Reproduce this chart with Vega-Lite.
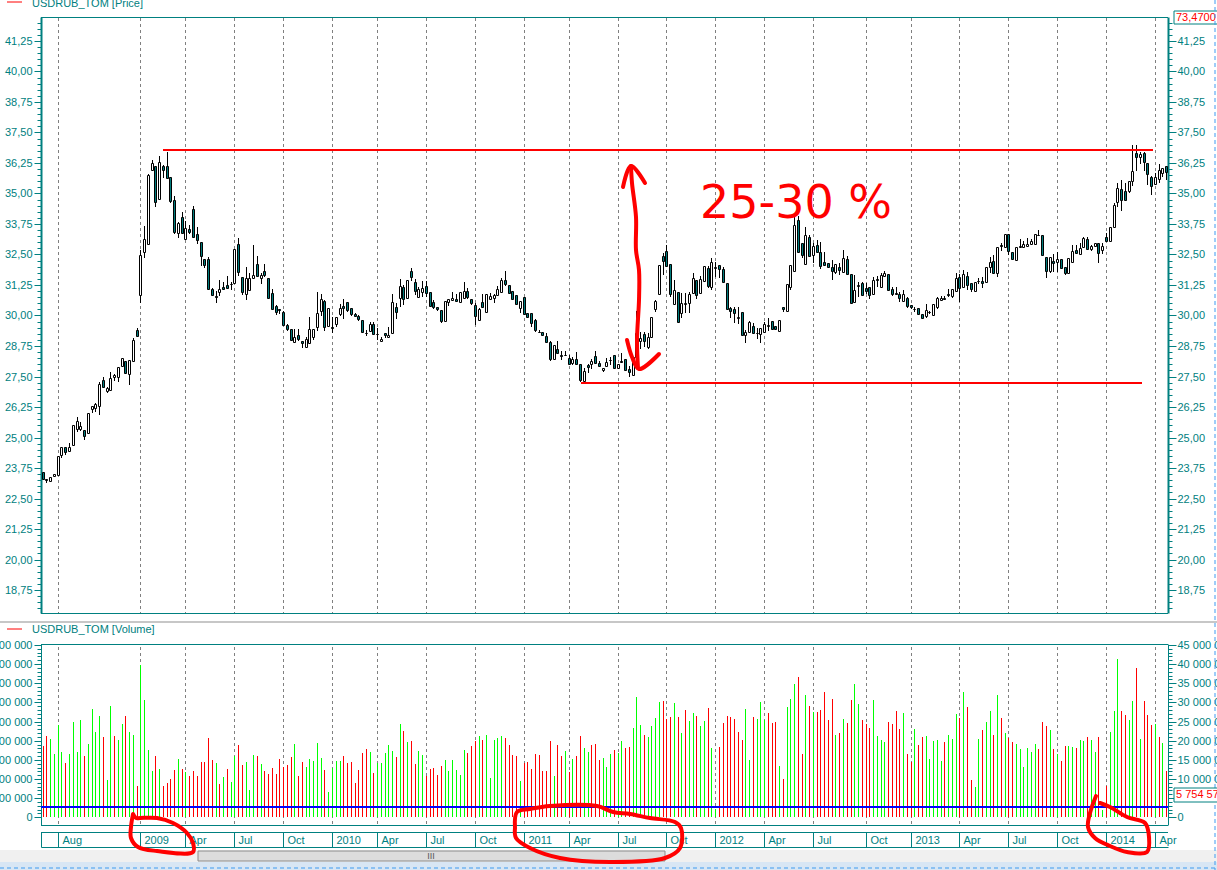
{"$schema":"https://vega.github.io/schema/vega-lite/v6.json","width":1127,"height":870,"padding":{"left":41,"top":0,"right":49,"bottom":0},"autosize":{"type":"none"},"background":"white",
"config":{"view":{"stroke":null},"axis":{"grid":false}},
"datasets":{
"w":[
{"n":0,"o":23.57,"h":23.57,"l":23.32,"c":23.32,"v":18600000,"d":"dn"},
{"n":1,"o":23.28,"h":23.29,"l":23.12,"c":23.27,"v":21200000,"d":"dn"},
{"n":2,"o":23.23,"h":23.39,"l":23.23,"c":23.39,"v":20400000,"d":"up"},
{"n":3,"o":23.41,"h":23.52,"l":23.41,"c":23.52,"v":16500000,"d":"up"},
{"n":4,"o":23.46,"h":24.23,"l":23.46,"c":24.23,"v":24100000,"d":"up"},
{"n":5,"o":24.3,"h":24.6,"l":24.17,"c":24.6,"v":17100000,"d":"up"},
{"n":6,"o":24.6,"h":24.6,"l":24.28,"c":24.39,"v":14200000,"d":"dn"},
{"n":7,"o":24.46,"h":24.76,"l":24.46,"c":24.6,"v":16500000,"d":"up"},
{"n":8,"o":24.7,"h":25.5,"l":24.7,"c":25.5,"v":24900000,"d":"up"},
{"n":9,"o":25.35,"h":25.83,"l":25.22,"c":25.66,"v":17100000,"d":"up"},
{"n":10,"o":25.35,"h":25.62,"l":25.25,"c":25.47,"v":25400000,"d":"up"},
{"n":11,"o":25.3,"h":25.3,"l":24.9,"c":25.07,"v":16000000,"d":"dn"},
{"n":12,"o":25.2,"h":25.99,"l":25.2,"c":25.99,"v":19100000,"d":"up"},
{"n":13,"o":26.18,"h":26.28,"l":26.0,"c":26.28,"v":28300000,"d":"up"},
{"n":14,"o":26.22,"h":26.43,"l":26.05,"c":26.37,"v":22300000,"d":"up"},
{"n":15,"o":26.3,"h":27.29,"l":25.94,"c":27.2,"v":26400000,"d":"up"},
{"n":16,"o":27.36,"h":27.48,"l":27.08,"c":27.08,"v":21000000,"d":"dn"},
{"n":17,"o":26.9,"h":27.06,"l":26.82,"c":27.02,"v":9700000,"d":"up"},
{"n":18,"o":26.95,"h":27.68,"l":26.95,"c":27.42,"v":29100000,"d":"up"},
{"n":19,"o":27.49,"h":27.59,"l":27.31,"c":27.56,"v":21200000,"d":"dn"},
{"n":20,"o":27.49,"h":27.88,"l":27.29,"c":27.88,"v":20200000,"d":"up"},
{"n":21,"o":27.93,"h":28.25,"l":27.93,"c":28.25,"v":24400000,"d":"up"},
{"n":22,"o":28.12,"h":28.12,"l":27.66,"c":27.66,"v":26400000,"d":"dn"},
{"n":23,"o":27.62,"h":28.16,"l":27.15,"c":28.16,"v":22300000,"d":"up"},
{"n":24,"o":28.12,"h":29.06,"l":28.12,"c":28.98,"v":21500000,"d":"up"},
{"n":25,"o":29.41,"h":29.47,"l":29.12,"c":29.16,"v":8200000,"d":"dn"},
{"n":26,"o":30.85,"h":32.68,"l":30.53,"c":32.47,"v":39800000,"d":"up"},
{"n":27,"o":32.62,"h":33.67,"l":32.37,"c":33.12,"v":30600000,"d":"up"},
{"n":28,"o":32.93,"h":35.8,"l":32.93,"c":35.76,"v":17600000,"d":"up"},
{"n":29,"o":35.96,"h":36.37,"l":35.9,"c":36.24,"v":12100000,"d":"up"},
{"n":30,"o":36.13,"h":36.13,"l":34.46,"c":34.66,"v":16000000,"d":"dn"},
{"n":31,"o":34.77,"h":36.54,"l":34.73,"c":36.28,"v":12600000,"d":"up"},
{"n":32,"o":36.13,"h":36.18,"l":35.65,"c":35.98,"v":8200000,"d":"dn"},
{"n":33,"o":36.13,"h":36.7,"l":35.65,"c":35.65,"v":9000000,"d":"dn"},
{"n":34,"o":35.66,"h":35.66,"l":34.62,"c":34.7,"v":10000000,"d":"dn"},
{"n":35,"o":34.73,"h":34.9,"l":33.34,"c":33.43,"v":12400000,"d":"dn"},
{"n":36,"o":33.37,"h":33.84,"l":33.19,"c":33.8,"v":15200000,"d":"up"},
{"n":37,"o":34.02,"h":34.24,"l":33.39,"c":33.39,"v":12600000,"d":"dn"},
{"n":38,"o":33.15,"h":33.89,"l":33.15,"c":33.57,"v":11800000,"d":"up"},
{"n":39,"o":33.55,"h":33.7,"l":33.34,"c":33.44,"v":10800000,"d":"dn"},
{"n":40,"o":34.36,"h":34.49,"l":33.2,"c":33.2,"v":12100000,"d":"dn"},
{"n":41,"o":33.33,"h":33.63,"l":32.93,"c":33.11,"v":10800000,"d":"dn"},
{"n":42,"o":33.0,"h":33.03,"l":32.04,"c":32.45,"v":14400000,"d":"dn"},
{"n":43,"o":32.3,"h":32.3,"l":31.93,"c":32.08,"v":14400000,"d":"dn"},
{"n":44,"o":32.31,"h":32.38,"l":31.05,"c":31.1,"v":20700000,"d":"dn"},
{"n":45,"o":31.07,"h":31.12,"l":30.8,"c":30.85,"v":15000000,"d":"dn"},
{"n":46,"o":30.78,"h":30.99,"l":30.53,"c":30.77,"v":14200000,"d":"up"},
{"n":47,"o":30.96,"h":31.45,"l":30.8,"c":31.07,"v":8700000,"d":"dn"},
{"n":48,"o":31.15,"h":31.37,"l":31.1,"c":31.1,"v":10500000,"d":"up"},
{"n":49,"o":31.24,"h":31.62,"l":31.13,"c":31.13,"v":12600000,"d":"dn"},
{"n":50,"o":31.3,"h":31.37,"l":31.04,"c":31.3,"v":9200000,"d":"up"},
{"n":51,"o":31.35,"h":32.71,"l":31.35,"c":32.71,"v":16000000,"d":"up"},
{"n":52,"o":32.92,"h":33.18,"l":31.62,"c":31.8,"v":18900000,"d":"dn"},
{"n":53,"o":31.56,"h":31.56,"l":30.85,"c":30.95,"v":13700000,"d":"dn"},
{"n":54,"o":30.88,"h":31.97,"l":30.64,"c":31.52,"v":14400000,"d":"up"},
{"n":55,"o":31.06,"h":31.73,"l":31.06,"c":31.52,"v":7100000,"d":"up"},
{"n":56,"o":31.52,"h":32.89,"l":31.5,"c":31.65,"v":16300000,"d":"up"},
{"n":57,"o":32.1,"h":32.44,"l":31.63,"c":31.63,"v":16000000,"d":"dn"},
{"n":58,"o":31.55,"h":31.73,"l":31.3,"c":31.66,"v":13900000,"d":"up"},
{"n":59,"o":31.81,"h":32.11,"l":31.59,"c":31.67,"v":12100000,"d":"dn"},
{"n":60,"o":31.52,"h":31.52,"l":30.7,"c":30.7,"v":11300000,"d":"dn"},
{"n":61,"o":30.91,"h":31.07,"l":30.28,"c":30.28,"v":12900000,"d":"dn"},
{"n":62,"o":30.39,"h":30.43,"l":30.0,"c":30.16,"v":11300000,"d":"dn"},
{"n":63,"o":30.28,"h":30.28,"l":30.05,"c":30.23,"v":15200000,"d":"dn"},
{"n":64,"o":30.13,"h":30.19,"l":29.57,"c":29.61,"v":13100000,"d":"dn"},
{"n":65,"o":29.61,"h":29.65,"l":29.35,"c":29.43,"v":13700000,"d":"dn"},
{"n":66,"o":29.43,"h":29.43,"l":28.98,"c":28.98,"v":15700000,"d":"dn"},
{"n":67,"o":28.93,"h":29.43,"l":28.93,"c":29.1,"v":19100000,"d":"up"},
{"n":68,"o":29.19,"h":29.45,"l":28.97,"c":29.05,"v":10800000,"d":"dn"},
{"n":69,"o":28.97,"h":28.97,"l":28.68,"c":28.89,"v":14400000,"d":"dn"},
{"n":70,"o":28.72,"h":29.13,"l":28.67,"c":29.02,"v":13100000,"d":"up"},
{"n":71,"o":28.88,"h":29.92,"l":28.88,"c":29.43,"v":15200000,"d":"up"},
{"n":72,"o":29.13,"h":29.43,"l":29.0,"c":29.43,"v":14700000,"d":"up"},
{"n":73,"o":29.54,"h":30.96,"l":29.38,"c":30.09,"v":19400000,"d":"up"},
{"n":74,"o":30.2,"h":30.88,"l":29.98,"c":30.66,"v":15500000,"d":"up"},
{"n":75,"o":30.58,"h":30.64,"l":29.38,"c":29.54,"v":12400000,"d":"dn"},
{"n":76,"o":29.57,"h":30.3,"l":29.57,"c":30.3,"v":6600000,"d":"up"},
{"n":77,"o":29.54,"h":29.95,"l":29.3,"c":29.5,"v":12900000,"d":"up"},
{"n":78,"o":29.65,"h":29.92,"l":29.54,"c":29.92,"v":14700000,"d":"up"},
{"n":79,"o":30.06,"h":30.47,"l":29.98,"c":30.29,"v":14700000,"d":"up"},
{"n":80,"o":30.38,"h":30.66,"l":29.87,"c":30.32,"v":16000000,"d":"dn"},
{"n":81,"o":30.54,"h":30.54,"l":30.15,"c":30.22,"v":14200000,"d":"dn"},
{"n":82,"o":30.29,"h":30.29,"l":29.98,"c":30.06,"v":14400000,"d":"dn"},
{"n":83,"o":30.05,"h":30.12,"l":29.92,"c":29.99,"v":9000000,"d":"dn"},
{"n":84,"o":29.96,"h":30.03,"l":29.76,"c":29.84,"v":12400000,"d":"dn"},
{"n":85,"o":29.8,"h":29.8,"l":29.31,"c":29.31,"v":16800000,"d":"dn"},
{"n":86,"o":29.3,"h":29.4,"l":29.16,"c":29.3,"v":17800000,"d":"dn"},
{"n":87,"o":29.38,"h":29.72,"l":29.32,"c":29.64,"v":17100000,"d":"up"},
{"n":88,"o":29.64,"h":29.73,"l":29.23,"c":29.23,"v":11600000,"d":"dn"},
{"n":89,"o":29.26,"h":29.49,"l":29.0,"c":29.24,"v":14200000,"d":"up"},
{"n":90,"o":28.94,"h":29.13,"l":28.91,"c":29.05,"v":14200000,"d":"up"},
{"n":91,"o":29.27,"h":29.28,"l":29.06,"c":29.21,"v":16800000,"d":"up"},
{"n":92,"o":29.1,"h":29.51,"l":29.1,"c":29.19,"v":18900000,"d":"up"},
{"n":93,"o":29.3,"h":30.88,"l":29.3,"c":30.54,"v":17300000,"d":"up"},
{"n":94,"o":30.33,"h":30.5,"l":29.86,"c":30.16,"v":15700000,"d":"dn"},
{"n":95,"o":30.73,"h":31.5,"l":30.33,"c":31.2,"v":24400000,"d":"up"},
{"n":96,"o":31.15,"h":31.25,"l":30.42,"c":30.69,"v":22500000,"d":"dn"},
{"n":97,"o":30.73,"h":31.44,"l":30.73,"c":31.44,"v":19700000,"d":"up"},
{"n":98,"o":31.81,"h":31.95,"l":31.41,"c":31.59,"v":19900000,"d":"dn"},
{"n":99,"o":31.36,"h":31.48,"l":30.83,"c":31.02,"v":13900000,"d":"dn"},
{"n":100,"o":30.74,"h":31.18,"l":30.74,"c":31.1,"v":17300000,"d":"up"},
{"n":101,"o":30.98,"h":31.41,"l":30.77,"c":31.11,"v":16300000,"d":"up"},
{"n":102,"o":31.2,"h":31.41,"l":30.77,"c":30.91,"v":10800000,"d":"dn"},
{"n":103,"o":30.95,"h":30.95,"l":30.4,"c":30.4,"v":12600000,"d":"dn"},
{"n":104,"o":30.55,"h":30.63,"l":30.25,"c":30.36,"v":12900000,"d":"dn"},
{"n":105,"o":30.33,"h":30.33,"l":30.2,"c":30.25,"v":11000000,"d":"dn"},
{"n":106,"o":30.21,"h":30.21,"l":29.71,"c":29.79,"v":13400000,"d":"dn"},
{"n":107,"o":29.79,"h":30.59,"l":29.79,"c":30.59,"v":15000000,"d":"up"},
{"n":108,"o":30.55,"h":30.69,"l":30.39,"c":30.66,"v":12100000,"d":"up"},
{"n":109,"o":30.64,"h":30.96,"l":30.59,"c":30.7,"v":15000000,"d":"up"},
{"n":110,"o":30.66,"h":30.88,"l":30.61,"c":30.61,"v":12400000,"d":"up"},
{"n":111,"o":30.57,"h":30.95,"l":30.57,"c":30.95,"v":11000000,"d":"up"},
{"n":112,"o":30.7,"h":31.37,"l":30.7,"c":30.99,"v":17600000,"d":"up"},
{"n":113,"o":31.0,"h":31.11,"l":30.66,"c":30.77,"v":16800000,"d":"dn"},
{"n":114,"o":30.66,"h":30.66,"l":30.42,"c":30.5,"v":18600000,"d":"dn"},
{"n":115,"o":30.44,"h":30.5,"l":29.62,"c":29.99,"v":19900000,"d":"dn"},
{"n":116,"o":29.82,"h":30.31,"l":29.79,"c":30.25,"v":21200000,"d":"up"},
{"n":117,"o":30.54,"h":30.88,"l":30.36,"c":30.36,"v":20200000,"d":"dn"},
{"n":118,"o":30.13,"h":30.88,"l":30.13,"c":30.88,"v":21500000,"d":"up"},
{"n":119,"o":30.69,"h":30.91,"l":30.69,"c":30.8,"v":10300000,"d":"up"},
{"n":120,"o":30.73,"h":30.88,"l":30.53,"c":30.84,"v":20200000,"d":"up"},
{"n":121,"o":30.85,"h":31.2,"l":30.85,"c":31.1,"v":20700000,"d":"up"},
{"n":122,"o":30.98,"h":31.52,"l":30.98,"c":31.45,"v":21200000,"d":"up"},
{"n":123,"o":31.44,"h":31.82,"l":31.21,"c":31.29,"v":20700000,"d":"dn"},
{"n":124,"o":31.24,"h":31.24,"l":30.88,"c":30.94,"v":18900000,"d":"dn"},
{"n":125,"o":30.99,"h":30.99,"l":30.63,"c":30.69,"v":16300000,"d":"dn"},
{"n":126,"o":30.83,"h":30.83,"l":30.42,"c":30.47,"v":16000000,"d":"dn"},
{"n":127,"o":30.32,"h":30.58,"l":30.09,"c":30.58,"v":9500000,"d":"up"},
{"n":128,"o":30.74,"h":30.74,"l":30.05,"c":30.05,"v":14200000,"d":"dn"},
{"n":129,"o":30.09,"h":30.09,"l":29.95,"c":29.95,"v":14400000,"d":"dn"},
{"n":130,"o":30.09,"h":30.09,"l":29.54,"c":29.71,"v":12600000,"d":"dn"},
{"n":131,"o":29.8,"h":29.84,"l":29.32,"c":29.4,"v":16500000,"d":"dn"},
{"n":132,"o":29.34,"h":29.4,"l":29.27,"c":29.33,"v":16300000,"d":"dn"},
{"n":133,"o":29.31,"h":29.31,"l":29.19,"c":29.19,"v":12100000,"d":"dn"},
{"n":134,"o":29.15,"h":29.27,"l":28.93,"c":28.93,"v":12100000,"d":"dn"},
{"n":135,"o":28.9,"h":28.97,"l":28.15,"c":28.23,"v":19900000,"d":"dn"},
{"n":136,"o":28.23,"h":28.78,"l":28.23,"c":28.78,"v":10800000,"d":"up"},
{"n":137,"o":28.61,"h":28.94,"l":28.48,"c":28.48,"v":18900000,"d":"dn"},
{"n":138,"o":28.37,"h":28.53,"l":28.18,"c":28.33,"v":16000000,"d":"dn"},
{"n":139,"o":28.38,"h":28.56,"l":28.34,"c":28.4,"v":17300000,"d":"up"},
{"n":140,"o":28.24,"h":28.38,"l":28.03,"c":28.03,"v":11800000,"d":"dn"},
{"n":141,"o":28.07,"h":28.3,"l":27.97,"c":28.2,"v":15200000,"d":"up"},
{"n":142,"o":28.2,"h":28.52,"l":28.03,"c":28.03,"v":16000000,"d":"dn"},
{"n":143,"o":28.03,"h":28.03,"l":27.29,"c":27.34,"v":21200000,"d":"dn"},
{"n":144,"o":27.33,"h":27.83,"l":27.22,"c":27.71,"v":18100000,"d":"up"},
{"n":145,"o":27.96,"h":28.01,"l":27.66,"c":27.9,"v":17100000,"d":"up"},
{"n":146,"o":28.03,"h":28.2,"l":27.82,"c":28.12,"v":18900000,"d":"dn"},
{"n":147,"o":28.33,"h":28.55,"l":28.07,"c":28.07,"v":19100000,"d":"dn"},
{"n":148,"o":28.05,"h":28.15,"l":27.88,"c":27.94,"v":15000000,"d":"dn"},
{"n":149,"o":27.77,"h":27.86,"l":27.7,"c":27.86,"v":15500000,"d":"up"},
{"n":150,"o":27.93,"h":28.24,"l":27.9,"c":28.08,"v":13100000,"d":"up"},
{"n":151,"o":28.16,"h":28.29,"l":27.97,"c":28.19,"v":16500000,"d":"up"},
{"n":152,"o":28.37,"h":28.37,"l":27.86,"c":27.86,"v":17600000,"d":"dn"},
{"n":153,"o":27.83,"h":28.01,"l":27.83,"c":28.01,"v":16700000,"d":"up"},
{"n":154,"o":28.12,"h":28.45,"l":28.04,"c":28.1,"v":19900000,"d":"up"},
{"n":155,"o":28.22,"h":28.22,"l":27.72,"c":27.77,"v":18100000,"d":"dn"},
{"n":156,"o":27.81,"h":27.95,"l":27.47,"c":27.67,"v":18400000,"d":"dn"},
{"n":157,"o":27.56,"h":28.31,"l":27.52,"c":28.31,"v":23300000,"d":"up"},
{"n":158,"o":28.31,"h":30.17,"l":28.04,"c":29.27,"v":31400000,"d":"up"},
{"n":159,"o":28.94,"h":29.34,"l":28.64,"c":29.06,"v":24100000,"d":"up"},
{"n":160,"o":29.24,"h":29.32,"l":28.72,"c":28.97,"v":21500000,"d":"dn"},
{"n":161,"o":28.72,"h":29.27,"l":28.64,"c":29.13,"v":21000000,"d":"up"},
{"n":162,"o":29.1,"h":29.95,"l":29.1,"c":29.95,"v":23800000,"d":"up"},
{"n":163,"o":30.28,"h":30.64,"l":30.14,"c":30.58,"v":25900000,"d":"up"},
{"n":164,"o":30.87,"h":32.06,"l":30.83,"c":32.06,"v":30100000,"d":"up"},
{"n":165,"o":32.44,"h":32.55,"l":31.67,"c":32.25,"v":30400000,"d":"dn"},
{"n":166,"o":32.63,"h":32.89,"l":32.04,"c":32.04,"v":25700000,"d":"dn"},
{"n":167,"o":32.1,"h":32.1,"l":30.77,"c":30.88,"v":26200000,"d":"dn"},
{"n":168,"o":30.46,"h":31.45,"l":30.46,"c":31.03,"v":29800000,"d":"up"},
{"n":169,"o":30.95,"h":30.95,"l":29.72,"c":29.72,"v":26200000,"d":"dn"},
{"n":170,"o":30.09,"h":30.91,"l":29.88,"c":30.5,"v":22000000,"d":"up"},
{"n":171,"o":30.46,"h":30.91,"l":30.12,"c":30.5,"v":28000000,"d":"dn"},
{"n":172,"o":30.5,"h":30.98,"l":30.09,"c":30.87,"v":25100000,"d":"up"},
{"n":173,"o":30.94,"h":31.73,"l":30.94,"c":31.52,"v":27200000,"d":"up"},
{"n":174,"o":31.44,"h":31.44,"l":30.69,"c":30.85,"v":26400000,"d":"dn"},
{"n":175,"o":30.91,"h":31.62,"l":30.91,"c":31.48,"v":23800000,"d":"up"},
{"n":176,"o":31.43,"h":32.01,"l":31.43,"c":32.01,"v":25100000,"d":"up"},
{"n":177,"o":31.93,"h":32.03,"l":31.11,"c":31.21,"v":28500000,"d":"dn"},
{"n":178,"o":31.15,"h":32.34,"l":31.05,"c":32.18,"v":18100000,"d":"up"},
{"n":179,"o":31.95,"h":32.2,"l":31.56,"c":31.99,"v":2200000,"d":"up"},
{"n":180,"o":32.05,"h":32.05,"l":31.55,"c":31.89,"v":18400000,"d":"dn"},
{"n":181,"o":31.92,"h":31.98,"l":31.36,"c":31.36,"v":24600000,"d":"dn"},
{"n":182,"o":31.35,"h":31.35,"l":30.22,"c":30.27,"v":26400000,"d":"dn"},
{"n":183,"o":30.29,"h":30.36,"l":29.88,"c":30.2,"v":26200000,"d":"dn"},
{"n":184,"o":30.27,"h":30.36,"l":29.71,"c":30.09,"v":25700000,"d":"dn"},
{"n":185,"o":29.91,"h":30.33,"l":29.65,"c":29.93,"v":22300000,"d":"dn"},
{"n":186,"o":30.13,"h":30.13,"l":29.19,"c":29.19,"v":20200000,"d":"dn"},
{"n":187,"o":29.19,"h":29.4,"l":28.89,"c":29.32,"v":28300000,"d":"up"},
{"n":188,"o":29.31,"h":29.79,"l":29.31,"c":29.73,"v":15000000,"d":"up"},
{"n":189,"o":29.57,"h":29.71,"l":29.3,"c":29.3,"v":26200000,"d":"dn"},
{"n":190,"o":29.3,"h":29.47,"l":29.05,"c":29.27,"v":25700000,"d":"up"},
{"n":191,"o":29.25,"h":29.47,"l":28.89,"c":29.47,"v":30100000,"d":"up"},
{"n":192,"o":29.32,"h":29.75,"l":29.32,"c":29.65,"v":25400000,"d":"up"},
{"n":193,"o":29.58,"h":29.91,"l":29.38,"c":29.62,"v":27200000,"d":"dn"},
{"n":194,"o":29.77,"h":29.77,"l":29.46,"c":29.46,"v":24600000,"d":"dn"},
{"n":195,"o":29.57,"h":29.57,"l":29.43,"c":29.43,"v":24900000,"d":"dn"},
{"n":196,"o":29.35,"h":29.82,"l":29.35,"c":29.82,"v":13400000,"d":"up"},
{"n":197,"o":30.34,"h":30.34,"l":30.14,"c":30.25,"v":10000000,"d":"dn"},
{"n":198,"o":30.2,"h":31.28,"l":30.2,"c":31.28,"v":28800000,"d":"up"},
{"n":199,"o":31.15,"h":32.06,"l":31.05,"c":32.06,"v":30900000,"d":"up"},
{"n":200,"o":31.84,"h":34.09,"l":31.84,"c":33.69,"v":34800000,"d":"up"},
{"n":201,"o":33.91,"h":34.09,"l":32.6,"c":32.6,"v":36600000,"d":"dn"},
{"n":202,"o":32.96,"h":32.96,"l":32.36,"c":32.48,"v":16500000,"d":"dn"},
{"n":203,"o":32.11,"h":33.61,"l":32.07,"c":33.29,"v":31900000,"d":"up"},
{"n":204,"o":33.22,"h":33.3,"l":32.42,"c":32.42,"v":29100000,"d":"dn"},
{"n":205,"o":32.48,"h":32.95,"l":32.14,"c":32.83,"v":27500000,"d":"up"},
{"n":206,"o":32.88,"h":33.09,"l":32.62,"c":32.62,"v":27500000,"d":"dn"},
{"n":207,"o":32.6,"h":33.01,"l":31.89,"c":32.04,"v":28000000,"d":"dn"},
{"n":208,"o":32.21,"h":32.62,"l":32.08,"c":32.08,"v":32700000,"d":"dn"},
{"n":209,"o":32.14,"h":32.14,"l":32.0,"c":32.0,"v":25400000,"d":"dn"},
{"n":210,"o":32.0,"h":32.27,"l":31.45,"c":31.84,"v":30900000,"d":"dn"},
{"n":211,"o":31.8,"h":32.1,"l":31.7,"c":32.1,"v":21500000,"d":"up"},
{"n":212,"o":31.98,"h":32.14,"l":31.67,"c":31.86,"v":22000000,"d":"dn"},
{"n":213,"o":31.8,"h":32.68,"l":31.8,"c":32.34,"v":25700000,"d":"up"},
{"n":214,"o":32.3,"h":32.44,"l":31.71,"c":31.71,"v":24600000,"d":"dn"},
{"n":215,"o":31.7,"h":31.7,"l":30.5,"c":30.5,"v":30600000,"d":"dn"},
{"n":216,"o":30.55,"h":31.66,"l":30.55,"c":31.03,"v":34800000,"d":"up"},
{"n":217,"o":31.2,"h":31.39,"l":30.77,"c":31.24,"v":29600000,"d":"up"},
{"n":218,"o":31.32,"h":31.39,"l":30.85,"c":30.85,"v":25400000,"d":"dn"},
{"n":219,"o":31.13,"h":31.32,"l":30.87,"c":31.0,"v":24400000,"d":"dn"},
{"n":220,"o":31.15,"h":31.15,"l":30.68,"c":30.85,"v":23300000,"d":"dn"},
{"n":221,"o":30.87,"h":31.56,"l":30.87,"c":31.44,"v":30600000,"d":"up"},
{"n":222,"o":31.51,"h":31.62,"l":31.15,"c":31.44,"v":21200000,"d":"up"},
{"n":223,"o":31.18,"h":31.73,"l":31.18,"c":31.66,"v":20200000,"d":"up"},
{"n":224,"o":31.6,"h":31.84,"l":31.6,"c":31.76,"v":19700000,"d":"up"},
{"n":225,"o":31.69,"h":31.69,"l":31.05,"c":31.05,"v":24900000,"d":"dn"},
{"n":226,"o":31.07,"h":31.18,"l":30.8,"c":30.89,"v":24400000,"d":"dn"},
{"n":227,"o":30.91,"h":31.15,"l":30.82,"c":30.89,"v":27800000,"d":"dn"},
{"n":228,"o":30.88,"h":30.98,"l":30.57,"c":30.73,"v":23100000,"d":"dn"},
{"n":229,"o":30.61,"h":31.05,"l":30.57,"c":30.88,"v":27200000,"d":"up"},
{"n":230,"o":30.7,"h":30.77,"l":30.29,"c":30.4,"v":16500000,"d":"dn"},
{"n":231,"o":30.43,"h":30.43,"l":30.25,"c":30.33,"v":14400000,"d":"dn"},
{"n":232,"o":30.28,"h":30.36,"l":30.16,"c":30.26,"v":23100000,"d":"up"},
{"n":233,"o":30.29,"h":30.29,"l":30.02,"c":30.05,"v":18900000,"d":"dn"},
{"n":234,"o":30.05,"h":30.05,"l":29.88,"c":29.88,"v":21000000,"d":"dn"},
{"n":235,"o":29.98,"h":30.47,"l":29.88,"c":30.21,"v":21200000,"d":"up"},
{"n":236,"o":30.16,"h":30.18,"l":30.06,"c":30.13,"v":15200000,"d":"up"},
{"n":237,"o":30.0,"h":30.46,"l":30.0,"c":30.46,"v":19800000,"d":"up"},
{"n":238,"o":30.36,"h":30.77,"l":30.27,"c":30.7,"v":20200000,"d":"up"},
{"n":239,"o":30.62,"h":30.8,"l":30.62,"c":30.7,"v":14700000,"d":"up"},
{"n":240,"o":30.72,"h":30.81,"l":30.66,"c":30.66,"v":19700000,"d":"dn"},
{"n":241,"o":30.88,"h":31.07,"l":30.77,"c":30.83,"v":21500000,"d":"up"},
{"n":242,"o":30.81,"h":31.09,"l":30.73,"c":31.09,"v":20400000,"d":"up"},
{"n":243,"o":31.0,"h":31.76,"l":31.0,"c":31.54,"v":27000000,"d":"up"},
{"n":244,"o":31.58,"h":31.7,"l":30.57,"c":31.11,"v":25900000,"d":"dn"},
{"n":245,"o":31.15,"h":31.85,"l":31.15,"c":31.7,"v":32700000,"d":"up"},
{"n":246,"o":31.62,"h":31.8,"l":31.05,"c":31.25,"v":28800000,"d":"dn"},
{"n":247,"o":31.33,"h":31.33,"l":30.95,"c":31.07,"v":9700000,"d":"dn"},
{"n":248,"o":31.02,"h":31.36,"l":31.02,"c":31.36,"v":7900000,"d":"up"},
{"n":249,"o":31.4,"h":31.52,"l":31.29,"c":31.43,"v":20400000,"d":"up"},
{"n":250,"o":31.41,"h":31.59,"l":31.11,"c":31.32,"v":22800000,"d":"dn"},
{"n":251,"o":31.36,"h":31.97,"l":31.36,"c":31.97,"v":24900000,"d":"up"},
{"n":252,"o":31.97,"h":32.41,"l":31.73,"c":32.18,"v":27800000,"d":"up"},
{"n":253,"o":32.22,"h":32.48,"l":31.73,"c":31.73,"v":21500000,"d":"dn"},
{"n":254,"o":31.75,"h":32.79,"l":31.56,"c":32.79,"v":31900000,"d":"up"},
{"n":255,"o":32.88,"h":32.98,"l":32.66,"c":32.83,"v":25900000,"d":"dn"},
{"n":256,"o":32.82,"h":33.33,"l":32.82,"c":33.33,"v":22000000,"d":"up"},
{"n":257,"o":33.34,"h":33.34,"l":32.48,"c":32.66,"v":20700000,"d":"dn"},
{"n":258,"o":32.6,"h":32.6,"l":32.33,"c":32.33,"v":19700000,"d":"dn"},
{"n":259,"o":32.28,"h":32.81,"l":32.24,"c":32.81,"v":19100000,"d":"up"},
{"n":260,"o":32.82,"h":33.15,"l":32.75,"c":32.86,"v":17800000,"d":"up"},
{"n":261,"o":32.82,"h":33.07,"l":32.82,"c":32.93,"v":13100000,"d":"up"},
{"n":262,"o":32.86,"h":33.18,"l":32.79,"c":32.92,"v":18100000,"d":"up"},
{"n":263,"o":32.93,"h":33.15,"l":32.93,"c":33.04,"v":17100000,"d":"up"},
{"n":264,"o":32.93,"h":33.33,"l":32.93,"c":33.33,"v":19100000,"d":"up"},
{"n":265,"o":33.28,"h":33.5,"l":33.28,"c":33.3,"v":17800000,"d":"dn"},
{"n":266,"o":33.3,"h":33.3,"l":32.49,"c":32.49,"v":24900000,"d":"dn"},
{"n":267,"o":32.41,"h":32.41,"l":31.54,"c":31.84,"v":23800000,"d":"dn"},
{"n":268,"o":31.84,"h":32.41,"l":31.75,"c":32.41,"v":22800000,"d":"up"},
{"n":269,"o":32.25,"h":32.52,"l":31.8,"c":32.17,"v":17800000,"d":"dn"},
{"n":270,"o":32.21,"h":32.59,"l":31.8,"c":32.3,"v":16500000,"d":"up"},
{"n":271,"o":32.3,"h":32.3,"l":31.93,"c":31.93,"v":14700000,"d":"dn"},
{"n":272,"o":31.97,"h":31.97,"l":31.65,"c":31.73,"v":18600000,"d":"dn"},
{"n":273,"o":31.75,"h":32.34,"l":31.75,"c":32.34,"v":18600000,"d":"up"},
{"n":274,"o":32.21,"h":32.89,"l":32.21,"c":32.63,"v":18400000,"d":"up"},
{"n":275,"o":32.68,"h":32.89,"l":32.52,"c":32.58,"v":18100000,"d":"dn"},
{"n":276,"o":32.52,"h":32.98,"l":32.52,"c":32.75,"v":20200000,"d":"up"},
{"n":277,"o":32.82,"h":33.23,"l":32.82,"c":33.18,"v":19900000,"d":"up"},
{"n":278,"o":33.14,"h":33.23,"l":32.71,"c":32.71,"v":21000000,"d":"dn"},
{"n":279,"o":32.72,"h":32.88,"l":32.66,"c":32.86,"v":20200000,"d":"up"},
{"n":280,"o":32.85,"h":32.98,"l":32.85,"c":32.98,"v":17100000,"d":"up"},
{"n":281,"o":32.96,"h":32.96,"l":32.17,"c":32.58,"v":21000000,"d":"dn"},
{"n":282,"o":32.67,"h":32.96,"l":32.51,"c":32.83,"v":2000000,"d":"up"},
{"n":283,"o":33.22,"h":33.37,"l":33.04,"c":33.04,"v":8200000,"d":"dn"},
{"n":284,"o":33.04,"h":33.61,"l":33.04,"c":33.61,"v":22300000,"d":"up"},
{"n":285,"o":33.61,"h":34.6,"l":33.61,"c":34.52,"v":27800000,"d":"up"},
{"n":286,"o":34.64,"h":35.42,"l":34.46,"c":35.21,"v":41300000,"d":"up"},
{"n":287,"o":35.17,"h":35.55,"l":34.3,"c":34.75,"v":27800000,"d":"dn"},
{"n":288,"o":35.1,"h":35.44,"l":34.72,"c":34.72,"v":26700000,"d":"dn"},
{"n":289,"o":35.1,"h":35.5,"l":35.0,"c":35.5,"v":25400000,"d":"up"},
{"n":290,"o":35.53,"h":36.99,"l":35.32,"c":35.9,"v":30400000,"d":"up"},
{"n":291,"o":36.65,"h":36.99,"l":35.94,"c":36.48,"v":39000000,"d":"dn"},
{"n":292,"o":36.48,"h":36.68,"l":36.2,"c":36.62,"v":20400000,"d":"up"},
{"n":293,"o":36.65,"h":36.7,"l":35.9,"c":36.3,"v":30400000,"d":"dn"},
{"n":294,"o":36.24,"h":36.24,"l":35.35,"c":35.79,"v":26700000,"d":"dn"},
{"n":295,"o":35.69,"h":35.72,"l":34.94,"c":35.31,"v":24000000,"d":"dn"},
{"n":296,"o":35.37,"h":35.85,"l":35.37,"c":35.66,"v":24400000,"d":"up"},
{"n":297,"o":35.61,"h":36.21,"l":35.44,"c":35.96,"v":21000000,"d":"dn"},
{"n":298,"o":35.85,"h":36.03,"l":35.66,"c":36.03,"v":19400000,"d":"up"},
{"n":299,"o":36.11,"h":36.14,"l":35.55,"c":35.88,"v":12100000,"d":"dn"}
],
"t":[{"n":4,"a":42.2,"b":17.81,"va":44500000,"vb":-2300000},{"n":26,"a":42.2,"b":17.81,"va":44500000,"vb":-2300000},{"n":38,"a":42.2,"b":17.81,"va":44500000,"vb":-2300000},{"n":51,"a":42.2,"b":17.81,"va":44500000,"vb":-2300000},{"n":64,"a":42.2,"b":17.81,"va":44500000,"vb":-2300000},{"n":77,"a":42.2,"b":17.81,"va":44500000,"vb":-2300000},{"n":89,"a":42.2,"b":17.81,"va":44500000,"vb":-2300000},{"n":102,"a":42.2,"b":17.81,"va":44500000,"vb":-2300000},{"n":115,"a":42.2,"b":17.81,"va":44500000,"vb":-2300000},{"n":128,"a":42.2,"b":17.81,"va":44500000,"vb":-2300000},{"n":140,"a":42.2,"b":17.81,"va":44500000,"vb":-2300000},{"n":153,"a":42.2,"b":17.81,"va":44500000,"vb":-2300000},{"n":166,"a":42.2,"b":17.81,"va":44500000,"vb":-2300000},{"n":179,"a":42.2,"b":17.81,"va":44500000,"vb":-2300000},{"n":192,"a":42.2,"b":17.81,"va":44500000,"vb":-2300000},{"n":205,"a":42.2,"b":17.81,"va":44500000,"vb":-2300000},{"n":219,"a":42.2,"b":17.81,"va":44500000,"vb":-2300000},{"n":231,"a":42.2,"b":17.81,"va":44500000,"vb":-2300000},{"n":244,"a":42.2,"b":17.81,"va":44500000,"vb":-2300000},{"n":257,"a":42.2,"b":17.81,"va":44500000,"vb":-2300000},{"n":270,"a":42.2,"b":17.81,"va":44500000,"vb":-2300000},{"n":283,"a":42.2,"b":17.81,"va":44500000,"vb":-2300000},{"n":296,"a":42.2,"b":17.81,"va":44500000,"vb":-2300000}],
"ps":[
{"id":"a","k":0,"n":156.5,"p":36.13},{"id":"a","k":1,"n":156.9,"p":35.42},{"id":"a","k":2,"n":157.9,"p":34.05},{"id":"a","k":3,"n":157.9,"p":32.68},{"id":"a","k":4,"n":158.7,"p":31.86},{"id":"a","k":5,"n":158.7,"p":30.64},{"id":"a","k":6,"n":158.3,"p":29.0},{"id":"a","k":7,"n":158.5,"p":27.84},
{"id":"b","k":0,"n":154.5,"p":35.25},{"id":"b","k":1,"n":156.5,"p":36.13},{"id":"b","k":2,"n":160.3,"p":35.42},
{"id":"c","k":0,"n":155.4,"p":29.0},{"id":"c","k":1,"n":156.8,"p":28.31},{"id":"c","k":2,"n":158.7,"p":27.8},{"id":"c","k":3,"n":163.9,"p":28.42}
],
"vs":[
{"id":"a","k":0,"n":24.1,"v":860000},{"id":"a","k":1,"n":23.4,"v":-2450000},{"id":"a","k":2,"n":23.4,"v":-5480000},{"id":"a","k":3,"n":25.4,"v":-7830000},{"id":"a","k":4,"n":30.3,"v":-8720000},{"id":"a","k":5,"n":40.1,"v":-8980000},{"id":"a","k":6,"n":39.9,"v":-6790000},{"id":"a","k":7,"n":38.3,"v":-4180000},{"id":"a","k":8,"n":34.8,"v":-1570000},{"id":"a","k":9,"n":30.3,"v":-260000},{"id":"a","k":10,"n":25.9,"v":-260000},{"id":"a","k":11,"n":24.8,"v":-260000},{"id":"a","k":12,"n":24.1,"v":860000},
{"id":"b","k":0,"n":125.7,"v":-2790000},{"id":"b","k":1,"n":126.3,"v":1460000},{"id":"b","k":2,"n":129.7,"v":2090000},{"id":"b","k":3,"n":135,"v":2950000},{"id":"b","k":4,"n":147.5,"v":3030000},{"id":"b","k":5,"n":151.9,"v":1310000},{"id":"b","k":6,"n":156.3,"v":860000},{"id":"b","k":7,"n":161.7,"v":-260000},{"id":"b","k":8,"n":168.3,"v":-1150000},{"id":"b","k":9,"n":169.8,"v":-2790000},{"id":"b","k":10,"n":169.6,"v":-8020000},{"id":"b","k":11,"n":165.6,"v":-10630000},{"id":"b","k":12,"n":151,"v":-11670000},{"id":"b","k":13,"n":137.7,"v":-10630000},{"id":"b","k":14,"n":129.7,"v":-8020000},{"id":"b","k":15,"n":126,"v":-5400000},{"id":"b","k":16,"n":125.7,"v":-2790000},
{"id":"c","k":0,"n":280.4,"v":5560000},{"id":"c","k":1,"n":278.8,"v":1040000},{"id":"c","k":2,"n":278.3,"v":-2450000},{"id":"c","k":3,"n":280.1,"v":-5480000},{"id":"c","k":4,"n":284.1,"v":-7490000},{"id":"c","k":5,"n":288.5,"v":-8980000},{"id":"c","k":6,"n":293.9,"v":-8980000},{"id":"c","k":7,"n":294.5,"v":-5070000},{"id":"c","k":8,"n":293.4,"v":-1570000},{"id":"c","k":9,"n":288.5,"v":160000},{"id":"c","k":10,"n":284.1,"v":2770000},{"id":"c","k":11,"n":281.4,"v":3660000}
]
},
"encoding":{"x":{"field":"n","type":"quantitative","title":null,"scale":{"domain":[-0.452,299.5],"nice":false,"zero":false,"round":true,"padding":0},
"axis":{"orient":"bottom","offset":-23,"values":[-0.452,4,26,38,51,64,77,89,102,115,128,140,153,166,179,192,205,219,231,244,257,270,283,296],
"labelExpr":"datum.value<0?'':['Aug','2009','Apr','Jul','Oct','2010','Apr','Jul','Oct','2011','Apr','Jul','Oct','2012','Apr','Jul','Oct','2013','Apr','Jul','Oct','2014','Apr'][indexof([4,26,38,51,64,77,89,102,115,128,140,153,166,179,192,205,219,231,244,257,270,283,296],datum.value)]",
"labelAlign":"left","labelBaseline":"middle","labelOffset":4,"labelPadding":8,"tickSize":-15,"tickColor":"#008080","domainColor":"#008080","labelColor":"#008080","labelFont":"Liberation Sans","labelFontSize":11,"grid":false,"labelFlush":false,"labelOverlap":false,"labelBound":false}}},
"resolve":{"scale":{"y":"independent"}},
"layer":[
{"resolve":{"axis":{"y":"independent"}},"layer":[
{"data":{"values":[{"n":-0.452,"n2":299.5,"p":42.23},{"n":-0.452,"n2":299.5,"p":17.81}]},"mark":{"type":"rule","color":"#008080","strokeWidth":1,"yOffset":0.5},
"encoding":{"x2":{"field":"n2"},"y":{"field":"p","type":"quantitative","title":null,"scale":{"domain":[17.81,42.23],"range":[613,17],"round":true,"nice":false,"zero":false},
"axis":{"orient":"left","values":[18.75,20,21.25,22.5,23.75,25,26.25,27.5,28.75,30,31.25,32.5,33.75,35,36.25,37.5,38.75,40,41.25],"labelExpr":"replace(format(datum.value,'.2f'),'.',',')","tickSize":7,"labelPadding":2,"tickColor":"#008080","domainColor":"#008080","domainWidth":2,"labelColor":"#008080","labelFont":"Liberation Sans","labelFontSize":11,"grid":false,"labelOverlap":false,"labelBound":false,"labelFlush":false}}}},
{"data":{"values":[{"n":-9.5,"n2":-5.5,"p":42.85}]},"mark":{"type":"rule","color":"#ff0000","strokeWidth":1},
"encoding":{"x2":{"field":"n2"},"y":{"field":"p","type":"quantitative","title":null,"scale":{"domain":[17.81,42.23],"range":[613,17],"round":true,"nice":false,"zero":false},
"axis":{"orient":"left","values":[18,18.25,18.5,18.75,19,19.25,19.5,19.75,20,20.25,20.5,20.75,21,21.25,21.5,21.75,22,22.25,22.5,22.75,23,23.25,23.5,23.75,24,24.25,24.5,24.75,25,25.25,25.5,25.75,26,26.25,26.5,26.75,27,27.25,27.5,27.75,28,28.25,28.5,28.75,29,29.25,29.5,29.75,30,30.25,30.5,30.75,31,31.25,31.5,31.75,32,32.25,32.5,32.75,33,33.25,33.5,33.75,34,34.25,34.5,34.75,35,35.25,35.5,35.75,36,36.25,36.5,36.75,37,37.25,37.5,37.75,38,38.25,38.5,38.75,39,39.25,39.5,39.75,40,40.25,40.5,40.75,41,41.25,41.5,41.75,42],"labels":false,"domain":false,"tickSize":4,"tickColor":"#008080","grid":false}}}},
{"data":{"values":[{"n":-11.4,"n2":312.6,"p":17.44}]},"mark":{"type":"rule","color":"#b4b4b4","strokeWidth":1.5},
"encoding":{"x2":{"field":"n2"},"y":{"field":"p","type":"quantitative","title":null,"scale":{"domain":[17.81,42.23],"range":[613,17],"round":true,"nice":false,"zero":false},
"axis":{"orient":"right","values":[18.75,20,21.25,22.5,23.75,25,26.25,27.5,28.75,30,31.25,32.5,33.75,35,36.25,37.5,38.75,40,41.25],"labelExpr":"replace(format(datum.value,'.2f'),'.',',')","tickSize":8,"labelPadding":1,"tickColor":"#008080","domainColor":"#008080","domainWidth":2,"labelColor":"#008080","labelFont":"Liberation Sans","labelFontSize":11,"grid":false,"labelOverlap":false,"labelBound":false,"labelFlush":false}}}},
{"data":{"name":"t"},"mark":{"type":"rule","color":"#808080","strokeWidth":1,"strokeDash":[3,3],"xOffset":0.5},
"encoding":{"y":{"field":"a","type":"quantitative","title":null,"scale":{"domain":[17.81,42.23],"range":[613,17],"round":true,"nice":false,"zero":false},
"axis":{"orient":"right","values":[18,18.25,18.5,18.75,19,19.25,19.5,19.75,20,20.25,20.5,20.75,21,21.25,21.5,21.75,22,22.25,22.5,22.75,23,23.25,23.5,23.75,24,24.25,24.5,24.75,25,25.25,25.5,25.75,26,26.25,26.5,26.75,27,27.25,27.5,27.75,28,28.25,28.5,28.75,29,29.25,29.5,29.75,30,30.25,30.5,30.75,31,31.25,31.5,31.75,32,32.25,32.5,32.75,33,33.25,33.5,33.75,34,34.25,34.5,34.75,35,35.25,35.5,35.75,36,36.25,36.5,36.75,37,37.25,37.5,37.75,38,38.25,38.5,38.75,39,39.25,39.5,39.75,40,40.25,40.5,40.75,41,41.25,41.5,41.75,42],"labels":false,"domain":false,"tickSize":4,"tickColor":"#008080","grid":false}},"y2":{"field":"b"}}},
{"data":{"name":"w"},"mark":{"type":"rule","color":"black","strokeWidth":1,"xOffset":0.5},
"encoding":{"y":{"field":"l","type":"quantitative","title":null,"axis":null,"scale":{"domain":[17.81,42.23],"range":[613,17],"round":true,"nice":false,"zero":false}},"y2":{"field":"h"}}},
{"data":{"name":"w"},"mark":{"type":"bar","size":2,"stroke":"black","strokeWidth":1,"orient":"vertical","xOffset":0.5,"yOffset":0.5,"y2Offset":0.5},
"encoding":{"y":{"field":"o","type":"quantitative","title":null,"axis":null,"scale":{"domain":[17.81,42.23],"range":[613,17],"round":true,"nice":false,"zero":false}},"y2":{"field":"c"},
"fill":{"condition":{"test":"datum.c >= datum.o","value":"#ffffff"},"value":"#007b7b"}}},
{"data":{"values":[{"n":32.0,"n2":295.6,"p":36.8},{"n":143.3,"n2":292.6,"p":27.22}]},"mark":{"type":"rule","color":"#ff0000","strokeWidth":2},
"encoding":{"x2":{"field":"n2"},"y":{"field":"p","type":"quantitative","title":null,"axis":null,"scale":{"domain":[17.81,42.23],"range":[613,17],"round":true,"nice":false,"zero":false}}}},
{"data":{"name":"ps"},"mark":{"type":"line","color":"#ff0000","strokeWidth":4,"interpolate":"catmull-rom","strokeCap":"round"},
"encoding":{"y":{"field":"p","type":"quantitative","title":null,"axis":null,"scale":{"domain":[17.81,42.23],"range":[613,17],"round":true,"nice":false,"zero":false}},"detail":{"field":"id"},"order":{"field":"k","type":"quantitative"}}},
{"data":{"values":[{"n":175,"p":34.0,"t":"25-30 %"}]},"mark":{"type":"text","color":"#ff0000","font":"DejaVu Sans","fontSize":46,"align":"left","baseline":"alphabetic"},
"encoding":{"y":{"field":"p","type":"quantitative","title":null,"axis":null,"scale":{"domain":[17.81,42.23],"range":[613,17],"round":true,"nice":false,"zero":false}},"text":{"field":"t"}}},
{"data":{"values":[{"n":-2.85,"p":42.64,"t":"USDRUB_TOM [Price]"}]},"mark":{"type":"text","color":"#008080","font":"Liberation Sans","fontSize":11,"align":"left","baseline":"alphabetic"},
"encoding":{"y":{"field":"p","type":"quantitative","title":null,"axis":null,"scale":{"domain":[17.81,42.23],"range":[613,17],"round":true,"nice":false,"zero":false}},"text":{"field":"t"}}},
{"data":{"values":[{"n":301.1,"n2":313,"p":42.48,"p2":41.95}]},"mark":{"type":"rect","fill":"#ffffff","stroke":"#008080","strokeWidth":1},
"encoding":{"x2":{"field":"n2"},"y":{"field":"p","type":"quantitative","title":null,"axis":null,"scale":{"domain":[17.81,42.23],"range":[613,17],"round":true,"nice":false,"zero":false}},"y2":{"field":"p2"}}},
{"data":{"values":[{"n":301.6,"p":42.19,"t":"73,4700"}]},"mark":{"type":"text","color":"#ff0000","font":"Liberation Sans","fontSize":11,"align":"left","baseline":"middle"},
"encoding":{"y":{"field":"p","type":"quantitative","title":null,"axis":null,"scale":{"domain":[17.81,42.23],"range":[613,17],"round":true,"nice":false,"zero":false}},"text":{"field":"t"}}}
]},
{"resolve":{"axis":{"y":"independent"}},"layer":[
{"data":{"values":[{"n":-0.452,"n2":299.5,"v":45250000},{"n":-0.452,"n2":299.5,"v":-2010000},{"n":-0.452,"n2":299.5,"v":-3840000}]},"mark":{"type":"rule","color":"#008080","strokeWidth":1,"yOffset":0.5},
"encoding":{"x2":{"field":"n2"},"y":{"field":"v","type":"quantitative","title":null,"scale":{"domain":[-2010000,45250000],"range":[825,644],"round":true,"nice":false,"zero":false},
"axis":{"orient":"left","values":[0,5000000,10000000,15000000,20000000,25000000,30000000,35000000,40000000,45000000],"labelExpr":"replace(replace(format(datum.value,','),',',' '),',',' ')","tickSize":7,"labelPadding":2,"tickColor":"#008080","domainColor":"#008080","domainWidth":1,"labelColor":"#008080","labelFont":"Liberation Sans","labelFontSize":11,"grid":false,"labelOverlap":false,"labelBound":false,"labelFlush":false}}}},
{"data":{"values":[{"n":-9.5,"n2":-5.5,"v":49100000}]},"mark":{"type":"rule","color":"#ff0000","strokeWidth":1},
"encoding":{"x2":{"field":"n2"},"y":{"field":"v","type":"quantitative","title":null,"scale":{"domain":[-2010000,45250000],"range":[825,644],"round":true,"nice":false,"zero":false},
"axis":{"orient":"left","values":[0,1000000,2000000,3000000,4000000,5000000,6000000,7000000,8000000,9000000,10000000,11000000,12000000,13000000,14000000,15000000,16000000,17000000,18000000,19000000,20000000,21000000,22000000,23000000,24000000,25000000,26000000,27000000,28000000,29000000,30000000,31000000,32000000,33000000,34000000,35000000,36000000,37000000,38000000,39000000,40000000,41000000,42000000,43000000,44000000,45000000],"labels":false,"domain":false,"tickSize":4,"tickColor":"#008080","grid":false}}}},
{"data":{"values":[{"n":-11.4,"n2":312.6,"v":-8600000,"v2":-11590000}]},"mark":{"type":"rect","fill":"#f0f0f0"},
"encoding":{"x2":{"field":"n2"},"y":{"field":"v","type":"quantitative","title":null,"scale":{"domain":[-2010000,45250000],"range":[825,644],"round":true,"nice":false,"zero":false},
"axis":{"orient":"right","values":[0,5000000,10000000,15000000,20000000,25000000,30000000,35000000,40000000,45000000],"labelExpr":"datum.value==5000000?'':replace(replace(format(datum.value,','),',',' '),',',' ')","tickSize":8,"labelPadding":1,"tickColor":"#008080","domainColor":"#008080","domainWidth":1,"labelColor":"#008080","labelFont":"Liberation Sans","labelFontSize":11,"grid":false,"labelOverlap":false,"labelBound":false,"labelFlush":false}},"y2":{"field":"v2"}}},
{"data":{"values":[{"n":-11.4,"n2":312.6,"v":-11590000,"v2":-13900000}]},"mark":{"type":"rect","fill":"#d8e6f4"},
"encoding":{"x2":{"field":"n2"},"y":{"field":"v","type":"quantitative","title":null,"scale":{"domain":[-2010000,45250000],"range":[825,644],"round":true,"nice":false,"zero":false},
"axis":{"orient":"right","values":[0,1000000,2000000,3000000,4000000,5000000,6000000,7000000,8000000,9000000,10000000,11000000,12000000,13000000,14000000,15000000,16000000,17000000,18000000,19000000,20000000,21000000,22000000,23000000,24000000,25000000,26000000,27000000,28000000,29000000,30000000,31000000,32000000,33000000,34000000,35000000,36000000,37000000,38000000,39000000,40000000,41000000,42000000,43000000,44000000,45000000],"labels":false,"domain":false,"tickSize":4,"tickColor":"#008080","grid":false}},"y2":{"field":"v2"}}},
{"data":{"values":[{"n":41.3,"n2":165.6,"v":-8900000,"v2":-11500000}]},"mark":{"type":"rect","fill":"#dcdcdc","stroke":"#8c8c8c","strokeWidth":1},
"encoding":{"x2":{"field":"n2"},"y":{"field":"v","type":"quantitative","title":null,"axis":null,"scale":{"domain":[-2010000,45250000],"range":[825,644],"round":true,"nice":false,"zero":false}},"y2":{"field":"v2"}}},
{"data":{"values":[{"n":103.3,"v":-10150000,"t":"III"}]},"mark":{"type":"text","color":"#555555","font":"Liberation Sans","fontSize":9,"align":"center","baseline":"middle"},
"encoding":{"y":{"field":"v","type":"quantitative","title":null,"axis":null,"scale":{"domain":[-2010000,45250000],"range":[825,644],"round":true,"nice":false,"zero":false}},"text":{"field":"t"}}},
{"data":{"values":[{"n":-11.4,"n2":312.6,"v":-13240000}]},"mark":{"type":"rule","color":"#3f9bf0","strokeWidth":1,"strokeDash":[4,3]},
"encoding":{"x2":{"field":"n2"},"y":{"field":"v","type":"quantitative","title":null,"axis":null,"scale":{"domain":[-2010000,45250000],"range":[825,644],"round":true,"nice":false,"zero":false}}}},
{"data":{"values":[{"n":312.1,"v":213400000,"v2":-13900000}]},"mark":{"type":"rule","color":"#3f9bf0","strokeWidth":1,"strokeDash":[4,3]},
"encoding":{"y":{"field":"v","type":"quantitative","title":null,"axis":null,"scale":{"domain":[-2010000,45250000],"range":[825,644],"round":true,"nice":false,"zero":false}},"y2":{"field":"v2"}}},
{"data":{"name":"t"},"mark":{"type":"rule","color":"#808080","strokeWidth":1,"strokeDash":[3,3],"xOffset":0.5},
"encoding":{"y":{"field":"va","type":"quantitative","title":null,"axis":null,"scale":{"domain":[-2010000,45250000],"range":[825,644],"round":true,"nice":false,"zero":false}},"y2":{"field":"vb"}}},
{"data":{"name":"w"},"mark":{"type":"bar","size":1,"orient":"vertical","xOffset":0.5},
"encoding":{"y":{"field":"v","type":"quantitative","stack":null,"title":null,"axis":null,"scale":{"domain":[-2010000,45250000],"range":[825,644],"round":true,"nice":false,"zero":false}},
"color":{"field":"d","type":"nominal","legend":null,"scale":{"domain":["up","dn"],"range":["#00ff00","#ff0000"]}}}},
{"data":{"values":[{"n":-0.452,"n2":299.5,"v":2770000}]},"mark":{"type":"rule","color":"#0000ff","strokeWidth":2},
"encoding":{"x2":{"field":"n2"},"y":{"field":"v","type":"quantitative","title":null,"axis":null,"scale":{"domain":[-2010000,45250000],"range":[825,644],"round":true,"nice":false,"zero":false}}}},
{"data":{"values":[{"n":-2.85,"v":48200000,"t":"USDRUB_TOM [Volume]"}]},"mark":{"type":"text","color":"#008080","font":"Liberation Sans","fontSize":11,"align":"left","baseline":"alphabetic"},
"encoding":{"y":{"field":"v","type":"quantitative","title":null,"axis":null,"scale":{"domain":[-2010000,45250000],"range":[825,644],"round":true,"nice":false,"zero":false}},"text":{"field":"t"}}},
{"data":{"values":[{"n":301.1,"n2":313,"v":7650000,"v2":4000000}]},"mark":{"type":"rect","fill":"#ffffff","stroke":"#008080","strokeWidth":1},
"encoding":{"x2":{"field":"n2"},"y":{"field":"v","type":"quantitative","title":null,"axis":null,"scale":{"domain":[-2010000,45250000],"range":[825,644],"round":true,"nice":false,"zero":false}},"y2":{"field":"v2"}}},
{"data":{"values":[{"n":301.6,"v":5820000,"t":"5 754 570"}]},"mark":{"type":"text","color":"#ff0000","font":"Liberation Sans","fontSize":11,"align":"left","baseline":"middle"},
"encoding":{"y":{"field":"v","type":"quantitative","title":null,"axis":null,"scale":{"domain":[-2010000,45250000],"range":[825,644],"round":true,"nice":false,"zero":false}},"text":{"field":"t"}}},
{"data":{"name":"vs"},"mark":{"type":"line","color":"#ff0000","strokeWidth":4,"interpolate":"catmull-rom","strokeCap":"round"},
"encoding":{"y":{"field":"v","type":"quantitative","title":null,"axis":null,"scale":{"domain":[-2010000,45250000],"range":[825,644],"round":true,"nice":false,"zero":false}},"detail":{"field":"id"},"order":{"field":"k","type":"quantitative"}}}
]}
]}
